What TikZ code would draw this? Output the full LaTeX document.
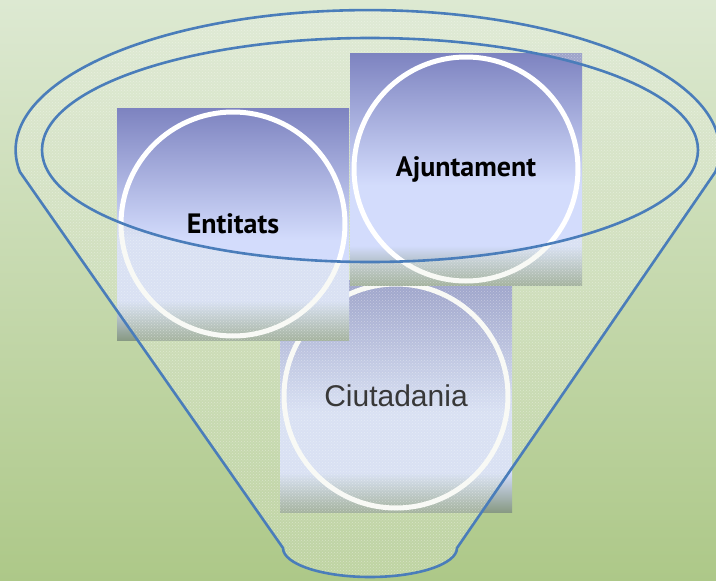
\documentclass[tikz,border=0pt]{standalone}
\usepackage{fontspec}
\setmainfont{PT Sans}
\newfontfamily\ciutfont{Liberation Sans}
\usetikzlibrary{patterns}

\definecolor{bgtop}{HTML}{DDE9D2}
\definecolor{bgbot}{HTML}{ADC888}
\definecolor{sqtop}{HTML}{7D83C0}
\definecolor{sqlight}{HTML}{D3DCFC}
\definecolor{sqbot}{HTML}{889A84}
\definecolor{funnelblue}{HTML}{4A7DBA}
\definecolor{veil}{HTML}{E8EEE0}

\pgfdeclareverticalshading{sqshade}{100bp}{color(0bp)=(sqbot); color(25bp)=(sqbot); color(33.5bp)=(sqlight); color(46.5bp)=(sqlight); color(75bp)=(sqtop); color(100bp)=(sqtop)}

\begin{document}
\begin{tikzpicture}[x=1pt,y=-1pt,
    sqbox/.style={minimum size=232pt,inner sep=0pt,shading=sqshade},
    ring/.style={circle,draw=white,line width=5pt,minimum size=224pt,inner sep=0pt,
      font=\bfseries\fontsize{28}{30}\selectfont},
    veilfill/.style={fill=veil,fill opacity=0.3},
    veildots/.style={pattern=crosshatch dots,pattern color=white,fill opacity=0.35},
    rim/.style={draw=funnelblue,line width=2.6pt,line join=round}]
  \useasboundingbox (0,0) rectangle (716,581);
  \shade[top color=bgtop,bottom color=bgbot] (0,0) rectangle (716,581);

  % mouth of the funnel, under the boxes
  \fill[veilfill] (370,150) ellipse[x radius=328,y radius=112];
  \fill[veildots] (370,150) ellipse[x radius=328,y radius=112];

  \node[sqbox] (ciutsq) at (396,396) {};
  \node[ring] (ciut) at (ciutsq) {};
  \node[sqbox] (entsq) at (233,224) {};
  \node[ring] (ent) at (entsq) {Entitats};
  \node[sqbox] (ajunsq) at (466,169) {};
  \node[ring] (ajun) at (ajunsq) {Ajuntament};

  % body of the funnel, over the boxes
  \fill[veilfill,even odd rule] (20,172) arc[start angle=171,end angle=369,x radius=352,y radius=140]
    -- (457,548) arc[start angle=0,end angle=180,x radius=87,y radius=29] -- cycle
    (370,150) ellipse[x radius=328,y radius=112];
  \fill[veildots,even odd rule] (20,172) arc[start angle=171,end angle=369,x radius=352,y radius=140]
    -- (457,548) arc[start angle=0,end angle=180,x radius=87,y radius=29] -- cycle
    (370,150) ellipse[x radius=328,y radius=112];
  \draw[rim] (20,172) arc[start angle=171,end angle=369,x radius=352,y radius=140]
    -- (457,548) arc[start angle=0,end angle=180,x radius=87,y radius=29] -- cycle;
  \draw[rim] (370,150) ellipse[x radius=328,y radius=112];

  \node[font=\ciutfont\fontsize{30}{32}\selectfont,text=black!78] (ciuttext) at (ciut) {Ciutadania};
\end{tikzpicture}
\end{document}
